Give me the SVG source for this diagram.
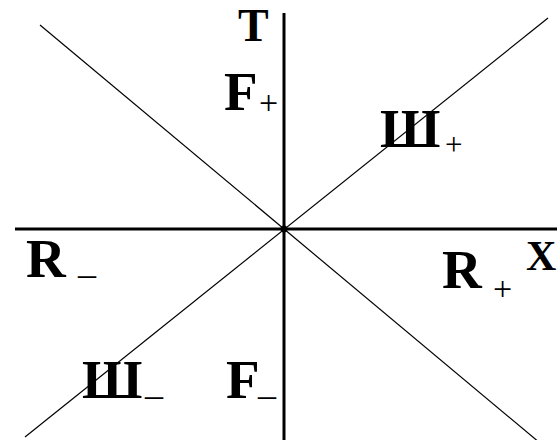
<svg xmlns="http://www.w3.org/2000/svg" width="557" height="440" viewBox="0 0 557 440">
<style>
.big{font-family:"Liberation Serif","Times New Roman",serif;font-weight:bold;font-size:55px;fill:#000}
.sub{font-family:"Liberation Serif","Times New Roman",serif;font-size:34px;fill:#000}
.axis{stroke:#000;stroke-width:3;fill:none}
.diag{stroke:#000;stroke-width:1.2;fill:none}
</style>
<rect width="557" height="440" fill="#fff"/>
<g id="connectors">
<line class="diag" x1="40" y1="25" x2="540" y2="443"/>
<line class="diag" x1="25" y1="437" x2="548" y2="18"/>
<line class="axis" x1="284" y1="13" x2="284" y2="440"/>
<line class="axis" x1="15" y1="229" x2="557" y2="229"/>
<circle cx="284" cy="229" r="3.5" fill="#000"/>
</g>
<g id="T"><text class="big" x="238" y="41" style="font-size:46px">T</text></g>
<g id="X"><text class="big" x="526" y="270" style="font-size:42px">X</text></g>
<g id="Fplus"><text class="big" x="224" y="110">F</text><text class="sub" x="259" y="114">+</text></g>
<g id="Shplus"><text class="big" x="380" y="147">Ш</text><text class="sub" x="445" y="155" style="font-size:31px">+</text></g>
<g id="Rminus"><text class="big" x="26" y="277">R</text><text class="sub" x="78" y="273" style="font-size:36px">_</text></g>
<g id="Rplus"><text class="big" x="442" y="288">R</text><text class="sub" x="493" y="300">+</text></g>
<g id="Shminus"><text class="big" x="82" y="398">Ш</text><text class="sub" x="145" y="394" style="font-size:36px">_</text></g>
<g id="Fminus"><text class="big" x="226" y="398">F</text><text class="sub" x="258" y="394" style="font-size:36px">_</text></g>
</svg>
